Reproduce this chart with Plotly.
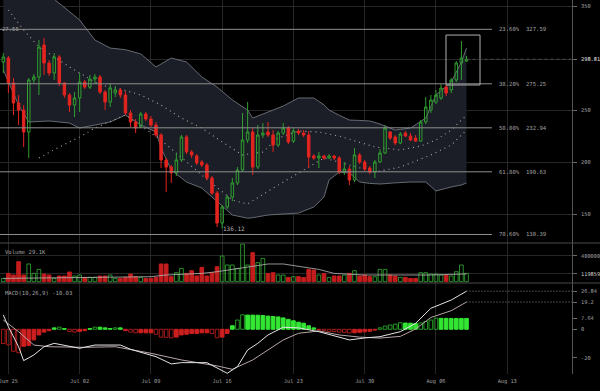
import plotly.graph_objects as go
import pandas as pd

# ---------------- data ----------------
dates = list(pd.date_range('2018-06-24 12:00', periods=92, freq='12h'))

opens = [296.2,300.0,276.0,256.8,250.0,228.9,278.9,281.8,312.5,295.2,
         285.6,301.0,276.0,264.5,254.8,261.6,277.0,272.1,279.8,281.8,
         267.3,257.7,266.4,269.3,264.5,247.2,238.5,233.7,246.2,241.4,
         235.6,226.0,202.0,195.2,189.5,202.0,224.1,209.7,205.8,200.0,
         197.2,184.7,170.2,141.4,156.8,166.4,179.9,192.3,221.2,228.9,
         195.2,226.0,228.9,226.0,216.4,227.9,232.7,220.2,229.8,227.9,
         226.0,205.8,203.9,205.8,203.9,205.8,203.9,190.4,193.3,182.7,
         206.8,200.0,194.3,190.4,200.0,208.7,228.9,224.1,218.3,227.9,
         225.0,223.1,220.2,238.5,250.0,257.7,261.6,272.1,269.3,278.9,
         295.2,297.1]
closes = [301.0,276.0,256.8,250.0,228.9,278.9,281.8,310.6,295.2,285.6,
          301.0,276.0,264.5,254.8,261.6,277.0,272.1,279.8,281.8,267.3,
          257.7,271.2,269.3,264.5,247.2,238.5,232.7,246.2,241.4,235.6,
          226.0,202.0,195.2,189.5,202.0,224.1,209.7,206.8,199.1,197.2,
          184.7,170.2,141.4,156.8,166.4,179.9,192.3,221.2,228.9,195.2,
          226.0,227.9,226.0,216.4,227.9,232.7,219.3,229.8,227.9,226.0,
          204.9,203.9,205.8,203.9,205.8,203.9,190.4,193.3,182.7,206.8,
          200.0,193.3,190.4,200.0,208.7,232.7,223.1,218.3,227.0,225.0,
          221.2,220.2,238.5,252.9,259.6,264.5,271.2,266.4,278.9,295.2,
          300.0,298.81]
highs = [304.8,302.0,280.8,264.5,254.8,280.8,284.6,317.3,319.3,298.1,
         304.8,302.9,277.0,266.4,267.3,285.6,278.9,283.7,284.6,283.7,
         269.3,276.0,273.1,271.2,268.3,250.0,241.4,248.1,248.1,244.3,
         238.5,227.9,203.9,197.2,208.7,226.0,226.0,211.6,207.7,202.0,
         199.1,186.6,172.2,158.7,168.3,184.7,195.2,247.2,257.7,232.7,
         235.6,237.5,238.5,230.8,229.8,237.5,234.7,232.7,231.8,230.8,
         229.8,207.7,209.7,206.8,207.7,206.8,205.8,200.0,196.2,213.5,
         208.7,202.0,196.2,202.0,212.5,235.6,229.8,226.0,228.9,229.8,
         227.9,226.0,240.4,262.5,264.5,269.3,275.0,274.1,280.8,297.1,
         316.4,302.0]
lows = [285.6,266.4,245.2,235.6,214.5,203.9,276.0,264.5,283.7,282.7,
        278.9,273.1,261.6,248.1,243.3,248.1,270.2,270.2,275.0,265.4,
        250.0,252.9,262.5,261.6,245.2,233.7,227.9,232.7,239.5,233.7,
        224.1,194.3,171.2,179.9,186.6,200.0,207.7,203.9,197.2,195.2,
        182.7,168.3,137.5,136.12,154.9,162.5,177.9,190.4,218.3,187.5,
        193.3,223.1,224.1,209.7,214.5,226.0,217.3,218.3,226.0,224.1,
        194.3,202.0,194.3,202.0,202.9,202.0,188.5,187.5,177.9,180.8,
        198.1,191.4,188.5,184.7,199.1,207.7,221.2,216.4,217.3,224.1,
        220.2,219.3,219.3,236.6,247.2,255.8,259.6,263.5,266.4,277.0,
        278.9,296.2]
volumes = [50800,127700,103100,307700,103100,272300,127700,189200,118500,103100,
           50800,87700,87700,149200,87700,103100,66200,66200,66200,87700,
           87700,103100,50800,50800,66200,118500,76900,66200,50800,50800,
           66200,272300,272300,76900,138500,204600,127700,169200,87700,220000,
           87700,138500,230800,395400,256900,256900,204600,580000,256900,446200,
           292300,358500,127700,138500,103100,103100,66200,76900,76900,66200,
           189200,180000,103100,127700,66200,87700,87700,103100,127700,169200,
           87700,103100,76900,76900,189200,189200,103100,87700,66200,66200,
           50800,50800,138500,138500,118500,118500,103100,103100,87700,153800,
           256900,127700]
hist = [-10,-11,-15.5,-16.5,-12,-11.5,-7.5,-4,-2,-1,
        1,1.5,0.5,-1.5,-2,-1.5,-1,0.5,1.5,1.5,
        1,0.5,1,1,-1,-2,-2.5,-2.5,-2.5,-2.5,
        -3.5,-5.5,-5.7,-6,-5.5,-4,-3.5,-3,-3,-2.5,
        -2.5,-3,-6,-5.5,-3,2.5,6.5,10.2,10,10,
        9.9,9.7,9.3,9,8.7,8,7,6,5,4.3,
        2.5,1,-0.5,-1,-1.5,-1.7,-2,-2.2,-2.6,-2.5,
        -2.2,-1.8,-1.4,-0.6,1,2.3,3,3.6,4.6,4.4,
        4.3,4,4.5,5.5,6.5,7.8,7.7,7.7,7.65,7.65,
        7.64,7.64]

bb_idx = [0,3,5,9,13,15,18,21,24,27,30,31,33,36,39,42,45,48,49,52,
          55,58,61,63,64,66,68,70,72,74,77,80,83,85,88,90,91]
bb_upper = [413,395,384.6,360.6,345,336.6,317.3,309.6,308,304,
            291.4,294,300.0,296.2,281.8,272.1,259.7,250.0,242.3,248.1,
            253.9,261.6,261.6,255,250,245,240.4,240,239.5,236.6,
            230.8,232.7,242.3,264.5,277.0,296.2,309.6]
bb_lower = [288.5,254.8,238.5,239.5,237.5,232.7,235.6,238.5,245.2,235.6,
            228.9,213.5,192.3,180.8,175,162,149.1,146,146.5,149.1,
            150,151.0,156.8,166.4,182.7,190.4,189.5,180.8,179.5,178.9,
            180,180.8,180.8,172.2,176.0,178,179.9]

mid_idx = [1,4,7,13,19,23,27,31,35,39,43,47,51,54,58,62,66,70,73,78,82,85,88,91]
mid_vals = [346.2,327.0,310.6,291.4,274.1,270.2,264.5,254.8,242.3,232.7,219.3,206.8,
            209.7,223.1,229.8,228.9,225.0,219.3,214.5,211.6,215.4,221.2,230.8,245.2]
slow_idx = [7,11,15,18,24,31,39,45,48,53,60,63,68,73,78,84,88,91]
slow_vals = [203.9,214.5,224.1,232.7,245.2,221.2,187.5,163.5,159.7,175.0,195.2,203.9,
             197.2,190.4,195.2,206.8,216.4,230.8]

volma_idx = [0,19,29,32,39,42,45,49,52,55,58,62,65,71,78,84,91]
volma_vals = [50800,66200,76900,103100,127700,153800,189200,241500,272300,272300,
              241500,189200,127700,103100,103100,103100,119859]

macd_idx = [0,1,3,4,6,8,10,13,15,18,23,25,30,33,35,40,42,44,46,48,50,52,55,58,62,68,71,74,78,81,84,88,91]
macd_vals = [10.1,1.8,-12.3,-22.1,-18.1,-12.3,-9.9,-11.8,-13.4,-11.1,-11.1,-14.1,-19.3,-24.4,-23.5,
             -23.5,-27.5,-31,-26.3,-14.6,-9.9,-4,1.4,1.0,-1.7,-7.5,-6.1,-5.2,-1.7,4.2,14.8,20.6,26.84]
sig_idx = [0,3,6,9,16,22,29,35,42,45,49,52,55,58,62,66,70,74,78,81,84,88,91]
sig_vals = [6.5,-1.7,-11.1,-12.3,-12.7,-12.3,-16.9,-21.6,-25.8,-28.2,-21.6,-14.6,-7.5,-2.8,
            -1.2,-4.0,-5.5,-6.2,-5.0,0.2,8.3,13.1,19.2]

fib_pct = ['23.60%', '38.20%', '50.00%', '61.80%', '78.60%']
fib_vals = [327.59, 275.25, 232.94, 190.63, 130.39]

x_tickvals = ['2018-06-25', '2018-07-02', '2018-07-09', '2018-07-16',
              '2018-07-23', '2018-07-30', '2018-08-06', '2018-08-13']
x_ticktext = ['Jun 25', 'Jul 02', 'Jul 09', 'Jul 16', 'Jul 23', 'Jul 30', 'Aug 06', 'Aug 13']

price_ticks = [150, 200, 250, 298.81, 350]
price_text = ['150', '200', '250', '<span style="color:#e8e8e8">298.81</span>', '350']
vol_ticks = [119859, 400000]
vol_text = ['<span style="color:#d0d0d0">119859</span>', '400000']
macd_ticks = [-20, 0, 7.64, 19.2, 26.84]
macd_text = ['-20', '0', '7.64', '19.2', '26.84']

last_price = 298.81
low_price = 136.12
box_top, box_bottom = 322.1, 274.1

# ---------------- styling ----------------
FONT = 'DejaVu Sans Mono'
TXT = '#a0a0a0'
GRID = '#262626'
RED = '#e3241f'
GREEN = '#2f9f2f'
BRIGHT_GREEN = '#33e633'
HOLLOW_RED = '#a51a1a'
XR = ['2018-06-24 04:13', '2018-08-19 08:45']
PRICE_RANGE = [122.2, 355.8]

def pick(idx):
    return [dates[i] for i in idx]

fig = go.Figure()

# Bollinger band (base layer)
fig.add_trace(go.Scatter(x=pick(bb_idx), y=bb_upper, mode='lines',
                         line=dict(color='#7b808a', width=0.8), xaxis='x', yaxis='y'))
fig.add_trace(go.Scatter(x=pick(bb_idx), y=bb_lower, mode='lines', fill='tonexty',
                         fillcolor='#1b1e26', line=dict(color='#7b808a', width=0.8),
                         xaxis='x', yaxis='y'))
# dotted averages
fig.add_trace(go.Scatter(x=pick(mid_idx), y=mid_vals, mode='lines',
                         line=dict(color='#a8a8a8', width=1.1, dash='1px,4px'),
                         xaxis='x', yaxis='y'))
fig.add_trace(go.Scatter(x=pick(slow_idx), y=slow_vals, mode='lines',
                         line=dict(color='#a8a8a8', width=1.1, dash='1px,4px'),
                         xaxis='x', yaxis='y'))
# candles on an overlaying axis so they sit above the band
fig.add_trace(go.Candlestick(x=dates, open=opens, high=highs, low=lows, close=closes,
                             increasing=dict(line=dict(color=GREEN, width=1),
                                             fillcolor='rgba(0,0,0,0)'),
                             decreasing=dict(line=dict(color=RED, width=1), fillcolor=RED),
                             whiskerwidth=0, xaxis='x', yaxis='y4'))

# volume
up = [c >= o for o, c in zip(opens, closes)]
vfill = ['rgba(0,0,0,0)' if u else '#c41d1d' for u in up]
vline = ['#2a8f2a' if u else '#c41d1d' for u in up]
fig.add_trace(go.Bar(x=dates, y=volumes, width=12 * 3600 * 1000 * 0.72,
                     marker=dict(color=vfill, line=dict(color=vline, width=1)),
                     xaxis='x2', yaxis='y2'))
fig.add_trace(go.Scatter(x=pick(volma_idx), y=volma_vals, mode='lines',
                         line=dict(color='#b8b8b8', width=0.8), xaxis='x2', yaxis='y2'))

# MACD histogram
hfill, hline = [], []
for k, h in enumerate(hist):
    grow = k == 0 or abs(h) > abs(hist[k - 1])
    if h >= 0:
        hfill.append('rgba(0,0,0,0)' if grow else BRIGHT_GREEN)
        hline.append('#249a24' if grow else BRIGHT_GREEN)
    else:
        hfill.append('rgba(0,0,0,0)' if grow else '#cc1f1f')
        hline.append(HOLLOW_RED if grow else '#cc1f1f')
fig.add_trace(go.Bar(x=dates, y=hist, width=12 * 3600 * 1000 * 0.72,
                     marker=dict(color=hfill, line=dict(color=hline, width=1)),
                     xaxis='x3', yaxis='y3'))
fig.add_trace(go.Scatter(x=pick(sig_idx), y=sig_vals, mode='lines',
                         line=dict(color='#b9a6a6', width=1), xaxis='x3', yaxis='y3'))
fig.add_trace(go.Scatter(x=pick(macd_idx), y=macd_vals, mode='lines',
                         line=dict(color='#e4e4e4', width=1), xaxis='x3', yaxis='y3'))

tickfont = dict(family=FONT, size=5.3, color=TXT)
xcommon = dict(type='date', range=XR, tickvals=x_tickvals, showgrid=True, gridcolor=GRID,
               gridwidth=1, zeroline=False, showline=False, ticks='', fixedrange=True)

shapes = []
for v in fib_vals:
    shapes.append(dict(type='line', xref='paper', yref='y', x0=0, x1=0.8601, y0=v, y1=v,
                       line=dict(color='#8e8e8e', width=1), layer='above'))
shapes.append(dict(type='rect', xref='paper', yref='y', x0=0.7797, x1=0.8392,
                   y0=box_bottom, y1=box_top, line=dict(color='#b0b0b0', width=1)))
shapes.append(dict(type='line', xref='x', yref='y', x0=dates[-1], x1=XR[1],
                   y0=last_price, y1=last_price, line=dict(color='#4a4a4a', width=1, dash='dot')))
for v in [macd_vals[-1], sig_vals[-1]]:
    shapes.append(dict(type='line', xref='x3', yref='y3', x0=dates[-1], x1=XR[1], y0=v, y1=v,
                       line=dict(color='#8a8a8a', width=1, dash='1px,2px')))
for yp in [0.3503, 0.2433]:
    shapes.append(dict(type='line', xref='paper', yref='paper', x0=0, x1=1.05, y0=yp, y1=yp,
                       line=dict(color='#4a4a4a', width=1)))

afont = dict(family=FONT, size=5.6, color=TXT)
annotations = []
for p, v in zip(fib_pct, fib_vals):
    annotations.append(dict(xref='paper', yref='y', x=0.869, y=v, text=f'{p}  {v:.2f}',
                            showarrow=False, xanchor='left', yanchor='middle', font=afont))
annotations.append(dict(xref='paper', yref='y', x=0, y=fib_vals[0], text='27.55',
                        showarrow=False, xanchor='left', yanchor='middle', font=afont))
annotations.append(dict(xref='x', yref='y', x=dates[43], y=low_price, text=f'{low_price:.2f}',
                        showarrow=False, xanchor='left', yanchor='middle', xshift=-1,
                        font=dict(family=FONT, size=6, color='#b5b5b5')))
annotations.append(dict(xref='paper', yref='paper', x=0.006, y=0.326, text='Volume 29.1K',
                        showarrow=False, xanchor='left', yanchor='middle', font=afont))
annotations.append(dict(xref='paper', yref='paper', x=0.006, y=0.2174,
                        text='MACD(10,26,9) -10.03',
                        showarrow=False, xanchor='left', yanchor='middle', font=afont))

ycommon = dict(side='right', showline=True, linecolor='#555555', linewidth=1, ticks='outside',
               ticklen=4, tickcolor='#6a6a6a', tickfont=tickfont, zeroline=False,
               fixedrange=True, ticklabelstandoff=3)

fig.update_layout(
    width=600, height=391,
    margin=dict(l=0, r=28, t=0, b=17, autoexpand=False),
    paper_bgcolor='#000000', plot_bgcolor='#000000',
    showlegend=False, hovermode=False, bargap=0,
    xaxis=dict(xcommon, anchor='y', domain=[0, 1], showticklabels=False,
               rangeslider=dict(visible=False)),
    xaxis2=dict(xcommon, anchor='y2', domain=[0, 1], showticklabels=False, matches='x'),
    xaxis3=dict(xcommon, anchor='y3', domain=[0, 1], showticklabels=True, matches='x',
                ticktext=x_ticktext, tickfont=tickfont, ticklabeloverflow='allow',
                ticklabelstandoff=3),
    yaxis=dict(ycommon, anchor='x', domain=[0.3503, 1], range=PRICE_RANGE,
               tickvals=price_ticks, ticktext=price_text, showgrid=True, gridcolor=GRID),
    yaxis4=dict(overlaying='y', anchor='x', range=PRICE_RANGE, visible=False,
                fixedrange=True, side='right'),
    yaxis2=dict(ycommon, anchor='x2', domain=[0.2433, 0.3503], range=[-20000, 595400],
                tickvals=vol_ticks, ticktext=vol_text, showgrid=True, gridcolor=GRID),
    yaxis3=dict(ycommon, anchor='x3', domain=[0, 0.2433], range=[-31.5, 32.6],
                tickvals=macd_ticks, ticktext=macd_text, showgrid=False),
    shapes=shapes, annotations=annotations,
)

fig.write_html('out.html', config={'displayModeBar': False, 'staticPlot': True},
               post_script="document.body.style.margin='0px';document.body.style.padding='0px';")
